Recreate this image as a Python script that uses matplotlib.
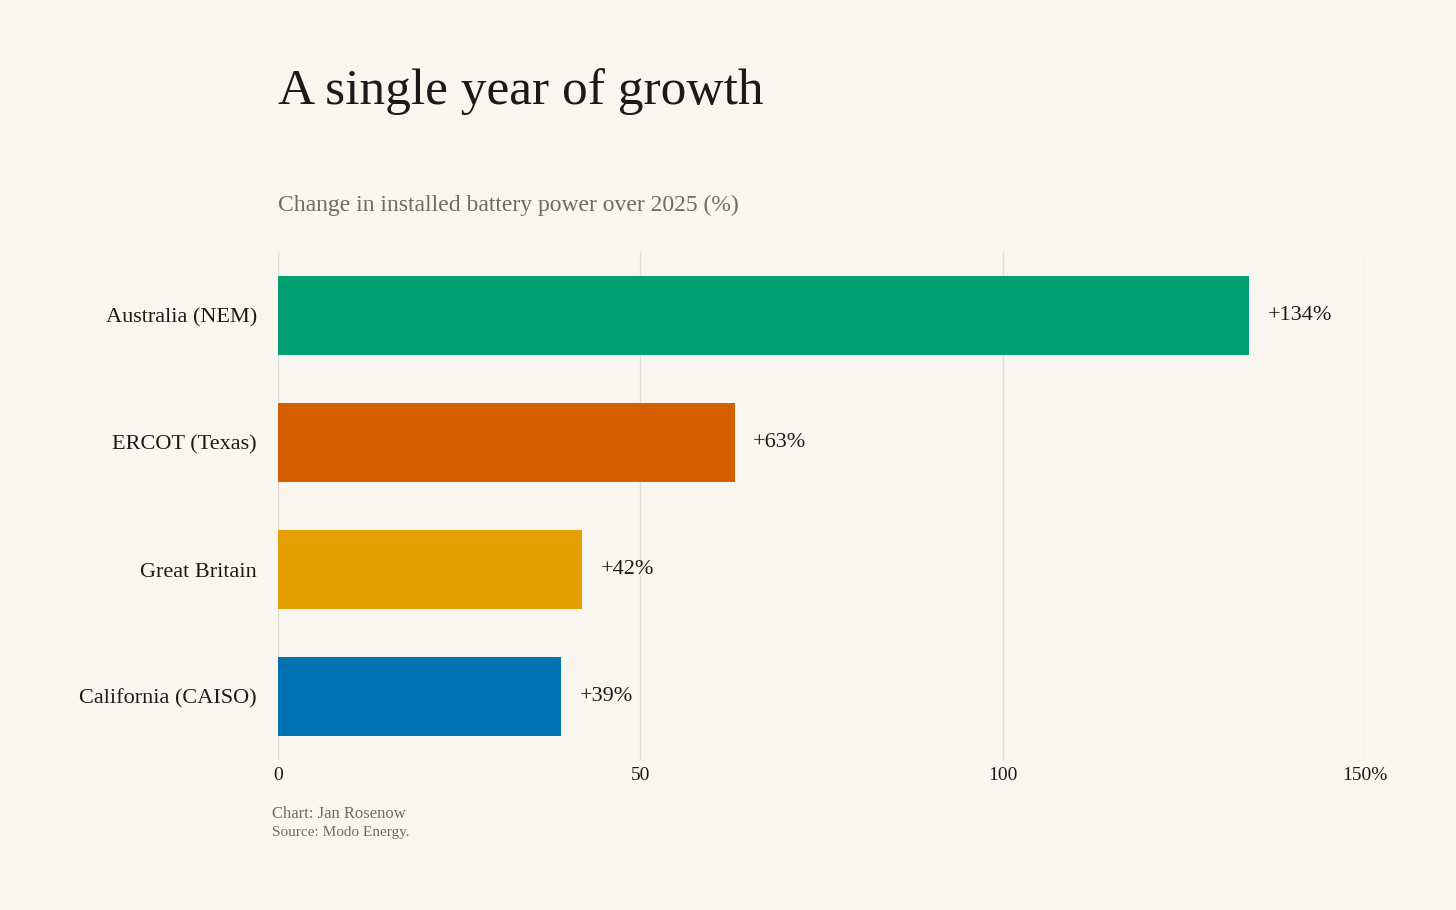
import matplotlib
matplotlib.use("Agg")
import matplotlib.pyplot as plt

regions = ["Australia (NEM)", "ERCOT (Texas)", "Great Britain", "California (CAISO)"]
growth = [134, 63, 42, 39]
colors = ["#009E73", "#D55E00", "#E69F00", "#0072B2"]
xticks = [0, 50, 100, 150]
xtick_labels = ["0", "50", "100", "150%"]

bg = "#f9f6f0"
plt.rcParams["font.family"] = ["Liberation Serif", "DejaVu Serif"]

fig = plt.figure(figsize=(14.56, 9.10), dpi=100, facecolor=bg)
ax = fig.add_axes([0.1909, 0.1648, 0.7466, 0.5582], facecolor=bg)

ypos = list(range(len(regions)))
ax.barh(ypos, growth, height=0.62, color=colors, zorder=3)
for y, v in zip(ypos, growth):
    ax.text(v + 2.6, y, f"+{v}%", va="center", ha="left", fontsize=16, color="#1a1a1a")

ax.set_xlim(0, 150)
ax.set_ylim(len(regions) - 0.5, -0.5)
ax.set_yticks(ypos)
ax.set_yticklabels(regions, fontsize=16, color="#1a1a1a")
ax.set_xticks(xticks)
ax.set_xticklabels(xtick_labels, fontsize=14, color="#1a1a1a")
ax.tick_params(length=0)
ax.tick_params(axis="y", pad=15)
ax.tick_params(axis="x", pad=5)
ax.grid(axis="x", color="#e2ddd5", linewidth=1, zorder=0)
for s in ax.spines.values():
    s.set_visible(False)

fig.text(0.1909, 0.899, "A single year of growth", fontsize=37, color="#1a1a1a", va="center")
fig.text(0.1909, 0.774, "Change in installed battery power over 2025 (%)", fontsize=17,
         color="#6f6a66", va="center")
fig.text(0.1868, 0.106, "Chart: Jan Rosenow", fontsize=12, color="#6f6a66", va="center")
fig.text(0.1868, 0.085, "Source: Modo Energy.", fontsize=11, color="#6f6a66", va="center")

fig.savefig("out.png", dpi=100, facecolor=bg)
